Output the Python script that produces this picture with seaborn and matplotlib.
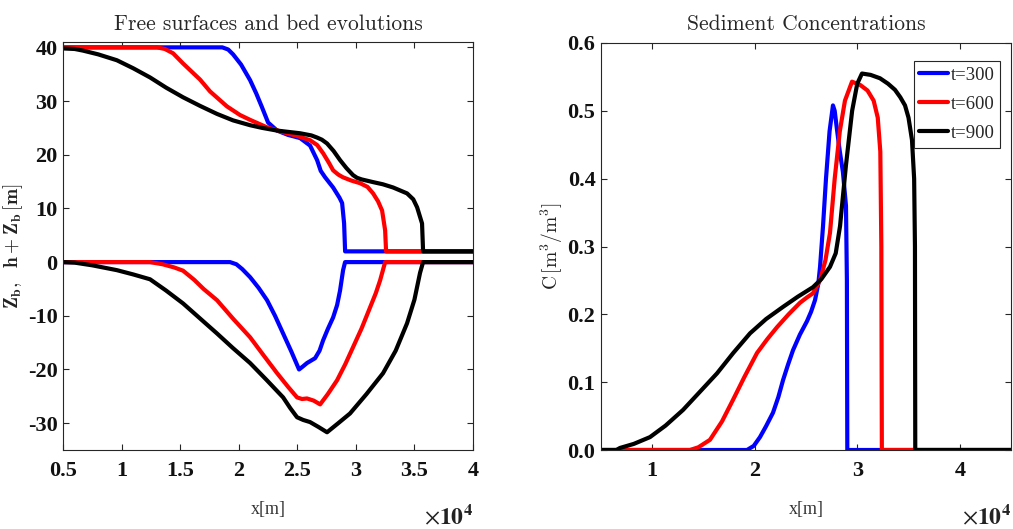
import numpy as np
import pandas as pd
import matplotlib
matplotlib.use("Agg")
import matplotlib.pyplot as plt
from matplotlib.ticker import FuncFormatter, FixedLocator
import seaborn as sns

# ---- data -------------------------------------------------------------
times = ["t=300", "t=600", "t=900"]
colors = ["#0000ff", "#ff0000", "#000000"]

# free surface h + Zb [m]
surf_x_300 = [5000, 18000, 18600, 19100, 19518, 20200, 20970, 21500, 21995, 22507, 23276, 24200,
              25240, 26094, 26692, 27000, 27375, 28058, 28600, 28827, 28997, 29083, 40000]
surf_y_300 = [40, 40, 40, 39.6, 38.7, 36.8, 33.9, 31.4, 28.8, 26.0, 24.5, 23.7,
              23.1, 21.7, 19.0, 17.0, 15.8, 13.9, 12.0, 11.0, 7.2, 2, 2]
surf_x_600 = [5000, 12500, 13028, 13700, 14394, 15250, 16700, 17550, 19000, 20110, 20970, 22420,
              23790, 25000, 26094, 26700, 27200, 27700, 28058, 28500, 28900, 29600, 30360, 31000,
              31470, 31900, 32240, 32500, 32580, 40000]
surf_y_600 = [40, 40, 40, 39.7, 38.9, 37.0, 34.0, 31.8, 29.0, 27.4, 26.5, 25.1,
              24.2, 23.5, 22.7, 21.8, 20.3, 18.5, 17.1, 16.3, 15.8, 15.2, 14.7, 14.0,
              12.8, 11.3, 9.6, 5.9, 2, 2]
surf_x_900 = [5000, 6000, 6700, 8000, 9600, 11000, 12430, 13800, 15250, 16700, 18150, 19518,
              20970, 22000, 23276, 25240, 26200, 26690, 27100, 27540, 28100, 28650, 29200,
              29760, 30100, 30500, 31470, 32300, 33180, 34370, 34900, 35230, 35650, 35740, 40000]
surf_y_900 = [39.8, 39.7, 39.4, 38.7, 37.6, 36.1, 34.4, 32.5, 30.7, 29.1, 27.6, 26.4,
              25.5, 25.0, 24.5, 24.0, 23.6, 23.2, 22.8, 22.1, 20.7, 19.0, 17.5,
              16.2, 15.7, 15.4, 14.9, 14.5, 13.9, 12.8, 11.7, 10.2, 7.2, 2, 2]

# bed level Zb [m]
bed_x_300 = [5000, 19260, 19800, 20300, 20970, 21700, 22420, 23100, 23790, 24500, 25150, 25500,
             25830, 26520, 26900, 27200, 27600, 28060, 28400, 28650, 28910, 29080, 40000]
bed_y_300 = [0, 0, -0.4, -1.3, -2.8, -4.8, -7.1, -10.0, -13.3, -16.7, -20.0, -19.4,
             -18.8, -17.9, -16.5, -14.6, -12.5, -10.3, -8.0, -5.3, -1.5, 0, 0]
bed_x_600 = [5000, 12430, 13500, 14500, 15250, 16200, 17000, 18150, 19500, 20970, 22100, 23280,
             24200, 24980, 25400, 25830, 26400, 26950, 27600, 28400, 29100, 29770, 30500,
             31220, 31700, 32070, 32500, 40000]
bed_y_600 = [0, 0, -0.4, -1.0, -1.6, -3.3, -5.0, -7.1, -10.5, -14.0, -17.3, -20.7,
             -23.2, -25.2, -25.5, -25.4, -25.8, -26.5, -24.6, -22.0, -19.0, -15.8, -12.3,
             -8.4, -5.8, -3.4, 0, 0]
bed_x_900 = [5000, 6000, 7500, 9600, 11000, 12430, 13800, 15250, 16700, 18150, 19500, 20970,
             22400, 23790, 24400, 24980, 25500, 26090, 26800, 27540, 28500, 29500, 30900,
             32320, 33400, 34370, 35000, 35480, 35740, 40000]
bed_y_900 = [0, -0.1, -0.6, -1.5, -2.3, -3.2, -5.3, -7.7, -10.5, -13.3, -16.0, -18.8,
             -22.0, -25.2, -27.2, -28.9, -29.4, -29.8, -30.7, -31.7, -30.0, -28.2, -24.6,
             -20.7, -16.5, -11.4, -7.0, -2.0, 0, 0]

# sediment concentration C [m3/m3]
conc_x_300 = [5000, 19000, 19244, 19900, 20510, 21100, 21780, 22300, 22760, 23250, 23730, 24400,
              25100, 25500, 25880, 26200, 26370, 26660, 26950, 27300, 27630, 27800, 28000,
              28300, 28600, 28900, 28990, 29030, 45000]
conc_y_300 = [0, 0, 0, 0.006, 0.019, 0.035, 0.055, 0.078, 0.103, 0.126, 0.147, 0.170,
              0.190, 0.204, 0.221, 0.245, 0.27, 0.33, 0.40, 0.47, 0.508, 0.500, 0.475,
              0.44, 0.41, 0.36, 0.25, 0, 0]
conc_x_600 = [5000, 13000, 13680, 14500, 15630, 16800, 17880, 19000, 20220, 21200, 22170, 23300,
              24410, 25100, 25680, 26000, 26370, 26900, 27340, 27800, 28300, 28800, 29490,
              30300, 31000, 31600, 32000, 32250, 32350, 32400, 45000]
conc_y_600 = [0, 0, 0, 0.004, 0.015, 0.042, 0.074, 0.108, 0.143, 0.163, 0.181, 0.200,
              0.217, 0.225, 0.231, 0.240, 0.25, 0.28, 0.32, 0.40, 0.47, 0.515, 0.543,
              0.538, 0.530, 0.515, 0.49, 0.44, 0.30, 0, 0]
conc_x_900 = [5000, 6500, 6850, 8200, 9780, 11300, 13000, 14600, 16320, 17900, 19540, 21100,
              22760, 24200, 25680, 26500, 27340, 27900, 28320, 28900, 29500, 30000, 30460,
              31300, 32220, 33000, 33680, 34200, 34660, 35000, 35340, 35550, 35630, 35660, 45000]
conc_y_900 = [0, 0, 0.003, 0.009, 0.019, 0.036, 0.059, 0.085, 0.113, 0.143, 0.172, 0.193,
              0.211, 0.226, 0.24, 0.252, 0.27, 0.29, 0.33, 0.42, 0.50, 0.54, 0.555,
              0.553, 0.548, 0.540, 0.531, 0.52, 0.508, 0.49, 0.457, 0.40, 0.30, 0, 0]

left_xticks = [5000, 10000, 15000, 20000, 25000, 30000, 35000, 40000]
left_yticks = [-30, -20, -10, 0, 10, 20, 30, 40]
right_xticks = [10000, 20000, 30000, 40000]
right_yticks = [0, 0.1, 0.2, 0.3, 0.4, 0.5, 0.6]

surf = [(surf_x_300, surf_y_300), (surf_x_600, surf_y_600), (surf_x_900, surf_y_900)]
bed = [(bed_x_300, bed_y_300), (bed_x_600, bed_y_600), (bed_x_900, bed_y_900)]
conc = [(conc_x_300, conc_y_300), (conc_x_600, conc_y_600), (conc_x_900, conc_y_900)]

# ---- style ------------------------------------------------------------
sns.set_theme(style="ticks")
plt.rcParams["font.family"] = ["Liberation Serif", "DejaVu Serif"]
plt.rcParams["axes.unicode_minus"] = False
plt.rcParams["mathtext.fontset"] = "cm"

spine_c = "#262626"
LW = 3.0

fig = plt.figure(figsize=(10.13, 5.29), dpi=100)
ax1 = fig.add_axes([63 / 1013, 1 - 450 / 529, 410 / 1013, 408 / 529])
ax2 = fig.add_axes([601 / 1013, 1 - 450 / 529, 410 / 1013, 407 / 529])


def draw(ax, pairs, labels=None):
    for i, (xs, ys) in enumerate(pairs):
        df = pd.DataFrame({"x": xs, "y": ys})
        sns.lineplot(data=df, x="x", y="y", color=colors[i], lw=LW, sort=False,
                     estimator=None, ax=ax, label=None if labels is None else labels[i],
                     legend=False if labels is None else "auto")


draw(ax1, surf)
draw(ax1, bed)
draw(ax2, conc, labels=times)

fmt = FuncFormatter(lambda v, p: "%g" % (v / 1e4))


def style_axes(ax, xt, yt, xlim, ylim):
    ax.set_xlim(*xlim)
    ax.set_ylim(*ylim)
    ax.xaxis.set_major_locator(FixedLocator(xt))
    ax.yaxis.set_major_locator(FixedLocator(yt))
    ax.xaxis.set_major_formatter(fmt)
    ax.tick_params(direction="in", length=4.5, width=0.8, color=spine_c,
                   top=True, right=True, labelsize=16, labelcolor="#111111")
    ax.tick_params(axis="x", pad=8)
    ax.tick_params(axis="y", pad=4)
    for lab in ax.get_xticklabels() + ax.get_yticklabels():
        lab.set_fontweight("bold")
    for s in ax.spines.values():
        s.set_visible(True)
        s.set_color(spine_c)
        s.set_linewidth(0.8)
    ax.text(1.0, -0.135, r"$\times\mathbf{10^4}$", transform=ax.transAxes, ha="right",
            va="top", fontsize=17, math_fontfamily="stix", color="#222222")


style_axes(ax1, left_xticks, left_yticks, (5000, 40000), (-35, 41))
style_axes(ax2, right_xticks, right_yticks, (5000, 45000), (0, 0.6))

ax1.set_title("Free surfaces and bed evolutions", fontfamily="cmr10", fontsize=15.5, pad=9)
ax2.set_title("Sediment Concentrations", fontfamily="cmr10", fontsize=15.5, pad=9)

for ax in (ax1, ax2):
    ax.set_xlabel("x[m]", fontsize=13, color="#333333")
    ax.xaxis.set_label_coords(0.5, -0.125)

ax1.set_ylabel(r"$\mathbf{Z_b,}\ \ \mathbf{h+Z_b\,[m]}$", fontsize=14, color="#222222")
ax1.yaxis.set_label_coords(-0.093, 0.5)
ax2.set_ylabel(r"$\mathrm{C\,[m^3/m^3]}$", fontsize=14, color="#222222")
ax2.yaxis.set_label_coords(-0.088, 0.5)

leg = ax2.legend(loc="upper right", bbox_to_anchor=(0.973, 0.956), borderaxespad=0,
                 fontsize=13.5, handlelength=1.5, handletextpad=0.15, labelspacing=0.64,
                 borderpad=0.3, fancybox=False, framealpha=1, edgecolor=spine_c)
leg.get_frame().set_linewidth(0.8)
for line in leg.get_lines():
    line.set_linewidth(LW)

fig.savefig("out.png", dpi=100)
